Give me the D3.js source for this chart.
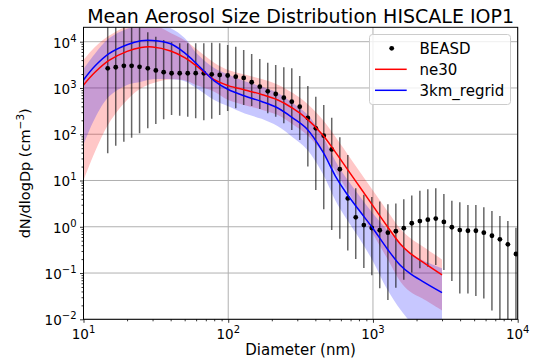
<!DOCTYPE html>
<html>
<head>
<meta charset="utf-8">
<script src="https://cdn.jsdelivr.net/npm/d3@7"></script>
<style>
  body { margin: 0; background: #fff; }
  svg { display: block; font-family: 'DejaVu Sans', sans-serif; }
</style>
</head>
<body>
<div id="chart"></div>
<script>
// ---- values ----

// BEASD observations (mean and error bar ends), dN/dlogDp in cm-3
const beasdDiameter = [14.7, 16.7, 19.0, 21.5, 24.4, 27.8, 31.6, 35.8, 40.6, 46.2, 52.5, 59.6, 67.8, 76.9, 87.3,
    99.1, 112.7, 127.9, 145.2, 165.2, 187.5, 212.8, 242.1, 274.8, 311.9, 354.8, 402.7, 457.1, 518.8, 590.2, 669.9,
    760.3, 865.0, 981.7, 1114, 1268, 1439, 1633, 1854, 2109, 2393, 2716, 3090, 3508, 3981, 4529, 5140, 5834, 6637,
    7534, 8551, 9727];
const beasdMean = [2660, 2800, 3010, 3010, 2870, 2660, 2390, 2190, 2080, 2080, 2080, 2085, 2080, 1970, 1905,
    1860, 1750, 1650, 1330, 1065, 847, 741, 617, 505, 394, 224, 134, 93, 47, 17.5, 4.1,
    1.6, 1.09, 0.94, 0.84, 0.745, 0.80, 0.93, 1.19, 1.33, 1.42, 1.50, 1.27, 0.975, 0.85, 0.82, 0.82, 0.745, 0.64,
    0.536, 0.418, 0.258];
const beasdLow = [38.7, 56.5, 69, 84, 105, 134, 166, 210, 260, 252, 240, 221, 200, 215, 260,
    318, 364, 429, 407, 351, 284, 240, 172, 124, 75, 20, 6.2, 2.4, 0.85, 0.55, 0.307,
    0.20, 0.128, 0.089, 0.047, 0.026, 0.048, 0.072, 0.103, 0.127, 0.137, 0.149, 0.116, 0.067, 0.036, 0.036, 0.032, 0.028, 0.0155,
    0.005, 0.005, 0.005];
const beasdHigh = [25000, 25000, 25000, 25000, 25000, 16000, 12800, 10900, 9700, 9230, 9230, 9230, 9230, 9500, 9230,
    8490, 7800, 6620, 5420, 4230, 3520, 3130, 2800, 2660, 1815, 1100, 648, 429, 226, 86, 35.6,
    6.8, 4.9, 4.4, 3.5, 3.08, 3.2, 3.94, 4.74, 6.0, 6.46, 6.79, 5.1, 3.66, 3.38, 2.96, 2.96, 2.64, 2.19,
    1.71, 1.33, 0.955];

// model output (mean with a shaded spread)
const modelDiameter = [10, 12, 15, 20, 25, 30, 40, 50, 60, 80, 100, 130, 170, 220, 280, 350, 450, 550, 650, 800,
    1000, 1250, 1550, 1800, 2200, 3000];
const ne30Mean = [1160, 2180, 3940, 6170, 7500, 7680, 6300, 4530, 3040, 1510, 1125, 905, 725, 550, 360, 215, 96, 41, 19.5, 7.7,
    2.83, 1.04, 0.42, 0.27, 0.174, 0.091];
const ne30Low = [10, 42, 173, 550, 980, 1260, 1540, 1470, 1160, 830, 550, 425, 340, 260, 162, 97, 40, 16, 6.8, 2.3,
    0.70, 0.21, 0.065, 0.04, 0.028, 0.0155];
const ne30High = [4020, 7650, 13400, 21500, 25000, 24000, 15500, 10800, 7000, 3500, 2450, 1950, 1560, 1180, 775, 462, 206, 88, 42, 16.5,
    6.1, 2.26, 0.9, 0.58, 0.38, 0.196];
const km3Mean = [1490, 2970, 5510, 8580, 10450, 10600, 9000, 5730, 3430, 1420, 927, 670, 510, 369, 224, 130, 42, 12.5, 5.5, 2.3,
    0.92, 0.34, 0.145, 0.098, 0.066, 0.0376];
const km3Low = [59, 221, 650, 1160, 1370, 1540, 1540, 1400, 1000, 550, 400, 280, 215, 148, 85, 47, 14, 3.7, 1.55, 0.58,
    0.18, 0.045, 0.016, 0.009, 0.005, 0.004];
const km3High = [2570, 5500, 11800, 19000, 23000, 24000, 19500, 12000, 5800, 2700, 1950, 1400, 1070, 775, 470, 273, 90, 26.5, 11.6, 4.8,
    1.93, 0.86, 0.43, 0.27, 0.19, 0.127];

// axis ticks
const xMajorTicks = [1e1, 1e2, 1e3, 1e4];
const xTickExponents = ['1', '2', '3', '4'];
const yMajorTicks = [1e-2, 1e-1, 1e0, 1e1, 1e2, 1e3, 1e4];
const yTickExponents = ['\u22122', '\u22121', '0', '1', '2', '3', '4'];

const series = [
    { name: 'ne30', color: '#ff0000', fill: 'rgba(255,0,0,0.22)', mean: ne30Mean, low: ne30Low, high: ne30High },
    { name: '3km_regrid', color: '#0000ff', fill: 'rgba(0,0,255,0.22)', mean: km3Mean, low: km3Low, high: km3High }
];

// ---- layout ----
const width = 534, height = 363;
const plot = { left: 83.5, right: 517.7, top: 27.3, bottom: 319.3 };

const svg = d3.select('#chart').append('svg')
    .attr('width', width)
    .attr('height', height);

const xScale = d3.scaleLog().domain([10, 1e4]).range([plot.left, plot.right]);
const yScale = d3.scaleLog().domain([0.01, 20470]).range([plot.bottom, plot.top]);

svg.append('clipPath').attr('id', 'clip')
    .append('rect')
    .attr('x', plot.left).attr('y', plot.top)
    .attr('width', plot.right - plot.left).attr('height', plot.bottom - plot.top);

// grid lines
const grid = svg.append('g');
grid.selectAll('.gx').data(xMajorTicks).enter().append('line')
    .attr('x1', d => xScale(d)).attr('x2', d => xScale(d))
    .attr('y1', plot.top).attr('y2', plot.bottom)
    .attr('stroke', '#b0b0b0').attr('stroke-width', 1);
grid.selectAll('.gy').data(yMajorTicks).enter().append('line')
    .attr('x1', plot.left).attr('x2', plot.right)
    .attr('y1', d => yScale(d)).attr('y2', d => yScale(d))
    .attr('stroke', '#b0b0b0').attr('stroke-width', 1);

const body = svg.append('g').attr('clip-path', 'url(#clip)');
const curve = d3.curveCatmullRom.alpha(0.5);

// shaded spread of each model
series.forEach(s => {
    const area = d3.area()
        .x((d, i) => xScale(modelDiameter[i]))
        .y0((d, i) => yScale(s.low[i]))
        .y1((d, i) => yScale(s.high[i]))
        .curve(curve);
    body.append('path')
        .datum(s.mean)
        .attr('fill', s.fill)
        .attr('d', area);
});

// observation error bars
body.selectAll('.errbar').data(beasdMean).enter().append('line')
    .attr('x1', (d, i) => xScale(beasdDiameter[i]))
    .attr('x2', (d, i) => xScale(beasdDiameter[i]))
    .attr('y1', (d, i) => yScale(beasdLow[i]))
    .attr('y2', (d, i) => yScale(beasdHigh[i]))
    .attr('stroke', 'rgba(0,0,0,0.6)')
    .attr('stroke-width', 1.5);

body.selectAll('.dot').data(beasdMean).enter().append('circle')
    .attr('cx', (d, i) => xScale(beasdDiameter[i]))
    .attr('cy', d => yScale(d))
    .attr('r', 2.4)
    .attr('fill', '#000');

// model mean lines
series.forEach(s => {
    const line = d3.line()
        .x((d, i) => xScale(modelDiameter[i]))
        .y(d => yScale(d))
        .curve(curve);
    body.append('path')
        .datum(s.mean)
        .attr('fill', 'none')
        .attr('stroke', s.color)
        .attr('stroke-width', 1.5)
        .attr('d', line);
});

// minor tick values per decade
function minorTicks(lo, hi) {
    const out = [];
    for (let e = lo; e < hi; e++) {
        for (let k = 2; k <= 9; k++) out.push(k * Math.pow(10, e));
    }
    return out;
}

// axes
const xAxis = svg.append('g').attr('transform', `translate(0, ${plot.bottom})`);
xAxis.call(d3.axisBottom(xScale).tickValues(xMajorTicks).tickSize(3.5).tickFormat(''));
xAxis.append('g').call(d3.axisBottom(xScale).tickValues(minorTicks(1, 4)).tickSize(2).tickFormat(''));

const yAxis = svg.append('g').attr('transform', `translate(${plot.left}, 0)`);
yAxis.call(d3.axisLeft(yScale).tickValues(yMajorTicks).tickSize(3.5).tickFormat(''));
yAxis.append('g').call(d3.axisLeft(yScale).tickValues(minorTicks(-2, 4).filter(v => v < 20470)).tickSize(2).tickFormat(''));

svg.selectAll('.domain').remove();
svg.selectAll('.tick line').attr('stroke', '#000').attr('stroke-width', 0.8);

// frame
svg.append('rect')
    .attr('x', plot.left).attr('y', plot.top)
    .attr('width', plot.right - plot.left).attr('height', plot.bottom - plot.top)
    .attr('fill', 'none').attr('stroke', '#000').attr('stroke-width', 1);

// tick labels with superscript exponents
xMajorTicks.forEach((v, i) => {
    const t = svg.append('text')
        .attr('x', xScale(v))
        .attr('y', 338.5)
        .attr('text-anchor', 'middle')
        .attr('font-size', 13.5);
    t.append('tspan').text('10');
    t.append('tspan').attr('font-size', 10).attr('dy', -6).text(xTickExponents[i]);
});
yMajorTicks.forEach((v, i) => {
    const t = svg.append('text')
        .attr('x', 76.5)
        .attr('y', yScale(v) + 6)
        .attr('text-anchor', 'end')
        .attr('font-size', 13.5);
    t.append('tspan').text('10');
    t.append('tspan').attr('font-size', 10).attr('dy', -6).text(yTickExponents[i]);
});

// titles
svg.append('text')
    .attr('x', (plot.left + plot.right) / 2)
    .attr('y', 23)
    .attr('text-anchor', 'middle')
    .attr('font-size', 19)
    .text('Mean Aerosol Size Distribution HISCALE IOP1');

svg.append('text')
    .attr('x', (plot.left + plot.right) / 2)
    .attr('y', 355)
    .attr('text-anchor', 'middle')
    .attr('font-size', 15)
    .text('Diameter (nm)');

const yLabel = svg.append('text')
    .attr('transform', `translate(30, ${(plot.top + plot.bottom) / 2}) rotate(-90)`)
    .attr('text-anchor', 'middle')
    .attr('font-size', 14.5);
yLabel.append('tspan').text('dN/dlogDp (cm');
yLabel.append('tspan').attr('font-size', 10.5).attr('dy', -6).text('\u22123');
yLabel.append('tspan').attr('dy', 6).text(')');

// legend
const legend = svg.append('g');
legend.append('rect')
    .attr('x', 369.5).attr('y', 34.5)
    .attr('width', 141).attr('height', 70)
    .attr('rx', 3)
    .attr('fill', 'rgba(255,255,255,0.8)')
    .attr('stroke', '#cccccc');
legend.append('circle').attr('cx', 391.7).attr('cy', 48.3).attr('r', 2.4).attr('fill', '#000');
legend.append('text').attr('x', 419.5).attr('y', 53.5).attr('font-size', 15).text('BEASD');
series.forEach((s, i) => {
    const yy = 69.3 + i * 21;
    legend.append('line')
        .attr('x1', 375).attr('x2', 406.7)
        .attr('y1', yy).attr('y2', yy)
        .attr('stroke', s.color).attr('stroke-width', 1.5);
    legend.append('text').attr('x', 419.5).attr('y', yy + 5.4).attr('font-size', 15).text(s.name);
});
</script>
</body>
</html>
